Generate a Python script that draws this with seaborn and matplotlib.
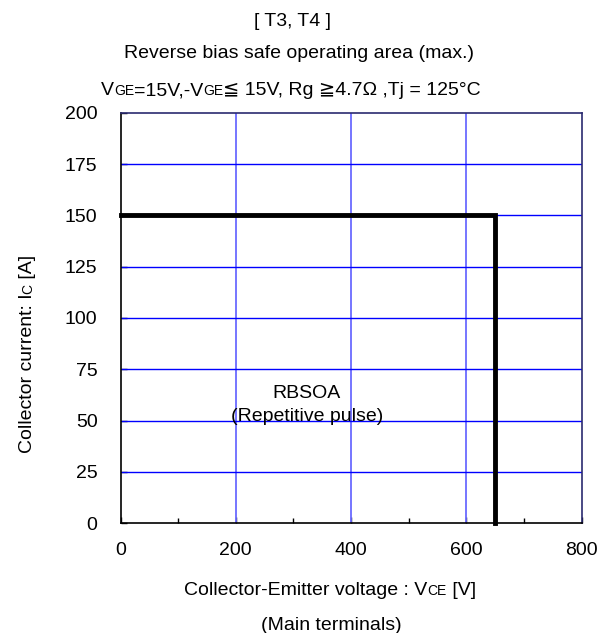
import matplotlib
matplotlib.use("Agg")
import matplotlib.pyplot as plt
import seaborn as sns
import pandas as pd

# RBSOA boundary (max.)
vce_limit = [0, 650, 650]
ic_limit = [150, 150, 0]

x_ticks = [0, 200, 400, 600, 800]
x_minor = [100, 300, 500, 700]
y_ticks = [0, 25, 50, 75, 100, 125, 150, 175, 200]

sns.set_theme(style="white")
FAMILY = ["Liberation Sans", "DejaVu Sans"]
plt.rcParams["font.family"] = FAMILY
plt.rcParams["text.color"] = "black"
plt.rcParams["axes.labelcolor"] = "black"
plt.rcParams["xtick.color"] = "black"
plt.rcParams["ytick.color"] = "black"

W, H = 598, 633
fig = plt.figure(figsize=(W / 100, H / 100), dpi=100)
ax = fig.add_axes([120.5 / W, 1 - 523.3 / H, 461 / W, 410.6 / H])

# grid
for v in x_ticks[1:-1]:
    ax.axvline(v, color="#6a6aff", lw=1.3, zorder=1)
for v in y_ticks[1:-1]:
    ax.axhline(v, color="#0000ff", lw=1.0, zorder=1)

df = pd.DataFrame({"VCE": vce_limit, "IC": ic_limit})
sns.lineplot(data=df, x="VCE", y="IC", sort=False, estimator=None,
             color="black", lw=3.5, ax=ax, zorder=3,
             solid_capstyle="projecting", solid_joinstyle="miter", clip_on=False)

ax.set_xlim(0, 800)
ax.set_ylim(0, 200)
ax.set_xticks(x_ticks)
ax.set_xticks(x_minor, minor=True)
ax.set_yticks(y_ticks)
ax.set_xlabel("")
ax.set_ylabel("")
ax.tick_params(axis="both", which="both", direction="in", colors="black",
               labelsize=14, labelcolor="black",
               bottom=True, left=True, top=False, right=False)
ax.tick_params(axis="x", which="major", length=4, width=1, pad=13.5)
ax.tick_params(axis="x", which="minor", length=3.5, width=1)
ax.tick_params(axis="y", which="major", length=4, width=1, pad=16.5)
for lab in ax.get_xticklabels() + ax.get_yticklabels():
    lab.set_family(FAMILY)

for s in ["left", "bottom"]:
    ax.spines[s].set_color("black")
    ax.spines[s].set_linewidth(1.2)
for s in ["top", "right"]:
    ax.spines[s].set_color("#2a2a70")
    ax.spines[s].set_linewidth(1.2)

ax.text(323, 61, "RBSOA", ha="center", va="baseline", fontsize=14, zorder=4)
ax.text(323, 50, "(Repetitive pulse)", ha="center", va="baseline", fontsize=14, zorder=4)

renderer = fig.canvas.get_renderer()


def rich_text(cx, cy, pieces, rotation=0):
    """Draw text pieces of mixed size centred at pixel (cx, cy) along one baseline."""
    objs, sizes = [], []
    for s, size in pieces:
        t = fig.text(0, 0, s, fontsize=size, ha="left", va="baseline",
                     rotation=rotation, rotation_mode="anchor", family=FAMILY,
                     color="black")
        bb = t.get_window_extent(renderer)
        objs.append(t)
        sizes.append(bb.height if rotation else bb.width)
    total = sum(sizes)
    if rotation:
        cur = (H - cy) - total / 2
        for t, w in zip(objs, sizes):
            t.set_position((cx / W, cur / H))
            cur += w
    else:
        cur = cx - total / 2
        for t, w in zip(objs, sizes):
            t.set_position((cur / W, 1 - cy / H))
            cur += w


# titles
rich_text(293, 26, [("[ T3, T4 ]", 14)])
rich_text(299, 58.5, [("Reverse bias safe operating area (max.)", 14)])
rich_text(291, 95, [("V", 14), ("GE", 10), ("=15V,-V", 14), ("GE", 10),
                    ("≦ 15V, Rg ≧4.7Ω ,Tj = 125°C", 14)])

# axis labels
rich_text(330, 595, [("Collector-Emitter voltage : V", 14), ("CE", 10), (" [V]", 14)])
rich_text(331, 630, [("(Main terminals)", 14)])
rich_text(32, 354, [("Collector current: I", 14), ("C", 10), (" [A]", 14)], rotation=90)

fig.savefig("out.png", dpi=100)
